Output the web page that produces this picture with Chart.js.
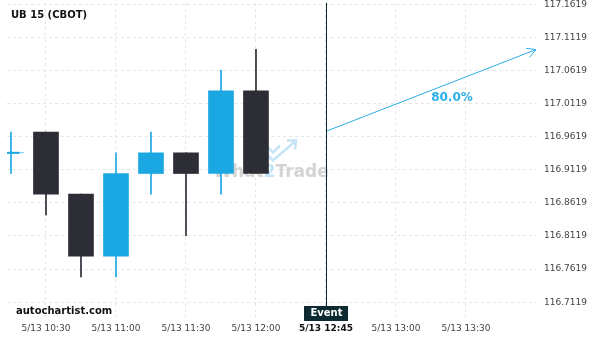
<!DOCTYPE html>
<html>
<head>
<meta charset="utf-8">
<script src="https://cdn.jsdelivr.net/npm/chart.js@4"></script>
<style>
  html, body { margin: 0; padding: 0; background: #fff; }
  #wrap { width: 600px; height: 340px; position: relative; }
</style>
</head>
<body>
<div id="wrap"><canvas id="chartUB"></canvas></div>
<script>
// 15 minute candles, slot 0 = 5/13 10:15
const slots  = [0, 1, 2, 3, 4, 5, 6, 7];
const opens  = [116.9375, 116.96875, 116.875, 116.78125, 116.90625, 116.9375, 116.90625, 117.03125];
const highs  = [116.96875, 116.96875, 116.875, 116.9375, 116.96875, 116.9375, 117.0625, 117.09375];
const lows   = [116.90625, 116.84375, 116.75, 116.75, 116.875, 116.8125, 116.875, 116.90625];
const closes = [116.9375, 116.875, 116.78125, 116.90625, 116.9375, 116.90625, 117.03125, 116.90625];

const xTickSlots  = [1, 3, 5, 7, 9, 11, 13];
const xTickLabels = ['5/13 10:30', '5/13 11:00', '5/13 11:30', '5/13 12:00', '5/13 12:45', '5/13 13:00', '5/13 13:30'];
const yTicks = [116.7119, 116.7619, 116.8119, 116.8619, 116.9119, 116.9619, 117.0119, 117.0619, 117.1119, 117.1619];

const eventSlot = 9;
const forecastSlots  = [9, 15];
const forecastValues = [116.97, 117.0934];
const forecastText = '80.0%';
const forecastTextAt = [12.6, 117.021];

const BLUE = '#1ba8e2';
const DARK = '#2d2d36';
const candleColors = opens.map((o, i) => closes[i] >= opens[i] ? BLUE : DARK);
const FONT = 'DejaVu Sans';

// no extra room for overflowing tick labels
function noPad(s) {
    s.paddingTop = 0; s.paddingBottom = 0; s.paddingLeft = 0; s.paddingRight = 0;
}

const extras = {
    id: 'extras',
    beforeDatasetsDraw(chart) {
        // watermark
        const c = chart.ctx, a = chart.chartArea;
        const cx = (a.left + a.right) / 2, cy = (a.top + a.bottom) / 2;
        c.save();
        c.font = 'bold 17px ' + FONT;
        c.textBaseline = 'alphabetic';
        const w1 = c.measureText('What').width, w2 = c.measureText('2').width, w3 = c.measureText('Trade').width;
        let x = cx - 1 - (w1 + w2 + w3) / 2;
        const base = cy + 16;
        c.fillStyle = '#d4d4d4';
        c.fillText('What', x, base);
        c.fillStyle = '#c4e5f6';
        c.fillText('2', x + w1, base);
        c.fillStyle = '#d4d4d4';
        c.fillText('Trade', x + w1 + w2, base);
        c.strokeStyle = '#c4e5f6';
        c.lineWidth = 2.5;
        c.beginPath();
        c.moveTo(cx - 6, cy - 15); c.lineTo(cx + 1, cy - 8); c.lineTo(cx + 8, cy - 15);
        c.moveTo(cx - 6, cy - 7); c.lineTo(cx + 1, cy); c.lineTo(cx + 23, cy - 19);
        c.moveTo(cx + 15, cy - 20); c.lineTo(cx + 24, cy - 20); c.lineTo(cx + 23, cy - 11);
        c.stroke();
        c.restore();
    },
    afterDraw(chart) {
        const c = chart.ctx, a = chart.chartArea;
        const xs = chart.scales.x, ys = chart.scales.y;
        c.save();
        // event line and box
        const ex = Math.round(xs.getPixelForValue(eventSlot)) + 0.5;
        c.strokeStyle = '#0c2a30';
        c.lineWidth = 1;
        c.beginPath();
        c.moveTo(ex, a.top);
        c.lineTo(ex, 307);
        c.stroke();
        c.fillStyle = '#0c2a30';
        c.fillRect(ex - 22.5, 306, 44, 15);
        c.fillStyle = '#fff';
        c.font = 'bold 10px ' + FONT;
        c.textAlign = 'center';
        c.textBaseline = 'middle';
        c.fillText('Event', ex, 313.5);

        // arrow head
        const x0 = xs.getPixelForValue(forecastSlots[0]), y0 = ys.getPixelForValue(forecastValues[0]);
        const x1 = xs.getPixelForValue(forecastSlots[1]), y1 = ys.getPixelForValue(forecastValues[1]);
        const ang = Math.atan2(y1 - y0, x1 - x0);
        c.strokeStyle = '#2aaee6';
        c.beginPath();
        c.moveTo(x1 - 10 * Math.cos(ang - 0.5), y1 - 10 * Math.sin(ang - 0.5));
        c.lineTo(x1, y1);
        c.lineTo(x1 - 10 * Math.cos(ang + 0.5), y1 - 10 * Math.sin(ang + 0.5));
        c.stroke();

        c.fillStyle = '#2aaee6';
        c.font = 'bold 12px ' + FONT;
        c.fillText(forecastText, xs.getPixelForValue(forecastTextAt[0]), ys.getPixelForValue(forecastTextAt[1]));

        // titles
        c.textAlign = 'left';
        c.fillStyle = '#111';
        c.font = 'bold 10px ' + FONT;
        c.fillText('UB 15 (CBOT)', 11, 15);
        c.fillText('autochartist.com', 16, 311);
        c.restore();
    }
};

new Chart(document.getElementById('chartUB').getContext('2d'), {
    type: 'bar',
    data: {
        datasets: [
            {
                type: 'line',
                data: forecastSlots.map((s, i) => ({ x: s, y: forecastValues[i] })),
                borderColor: '#2aaee6',
                borderWidth: 1,
                pointRadius: 0,
                clip: false,
                order: 0
            },
            {
                type: 'scatter',
                data: slots.filter(i => opens[i] === closes[i]).map(i => ({ x: i, y: opens[i] })),
                pointStyle: 'line',
                pointRadius: 8.5,
                borderColor: BLUE,
                borderWidth: 2,
                order: 1
            },
            {
                data: slots.map(i => ({ x: i, y: [opens[i], closes[i]] })),
                backgroundColor: candleColors,
                barThickness: 25,
                grouped: false,
                order: 2
            },
            {
                data: slots.map(i => ({ x: i, y: [lows[i], highs[i]] })),
                backgroundColor: candleColors,
                barThickness: 1,
                grouped: false,
                order: 3
            }
        ]
    },
    options: {
        responsive: true,
        maintainAspectRatio: false,
        animation: false,
        layout: { autoPadding: false, padding: { left: 7, top: 3, right: 7, bottom: 0 } },
        plugins: {
            legend: { display: false },
            tooltip: { enabled: false }
        },
        scales: {
            x: {
                type: 'linear',
                min: -0.114,
                max: 15.029,
                offset: false,
                grid: { offset: false, color: '#e6e6e6', drawTicks: false },
                border: { display: false, dash: [3, 3] },
                afterBuildTicks: s => { s.ticks = xTickSlots.map(v => ({ value: v })); },
                afterFit: s => { s.height = 22; noPad(s); },
                ticks: {
                    padding: 5,
                    maxRotation: 0,
                    autoSkip: false,
                    color: ctx => ctx.index === 4 ? '#111' : '#444',
                    font: ctx => ({ family: FONT, size: 9, weight: ctx.index === 4 ? 'bold' : 'normal' }),
                    callback: (v, i) => xTickLabels[i]
                }
            },
            y: {
                position: 'right',
                min: 116.688,
                max: 117.1638,
                grid: { color: '#e6e6e6', drawTicks: false },
                border: { display: false, dash: [3, 3] },
                afterBuildTicks: s => { s.ticks = yTicks.map(v => ({ value: v })); },
                afterFit: s => { s.width = 56; noPad(s); },
                ticks: {
                    padding: 7,
                    color: '#444',
                    font: { family: FONT, size: 9 },
                    callback: v => v.toFixed(4)
                }
            }
        }
    },
    plugins: [extras]
});
</script>
</body>
</html>
